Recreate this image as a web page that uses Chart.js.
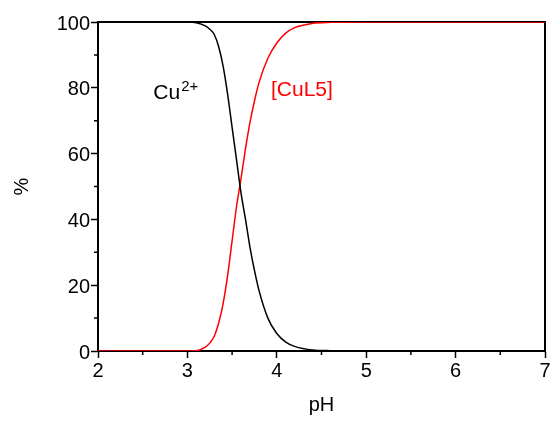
<!DOCTYPE html>
<html>
<head>
<meta charset="utf-8">
<script src="https://cdn.jsdelivr.net/npm/chart.js@4/dist/chart.umd.min.js"></script>
<style>
  html, body { margin: 0; padding: 0; background: #fff; }
  #wrap { width: 555px; height: 421px; }
</style>
</head>
<body>
<div id="wrap"><canvas id="SpeciesChart"></canvas></div>
<script>
// pH grid and distribution (%)
const pH = [2, 2.5, 3, 3.1, 3.2, 3.25, 3.3, 3.35, 3.4, 3.45, 3.5, 3.55, 3.6, 3.65, 3.7, 3.75, 3.8, 3.9, 4.0, 4.1, 4.2, 4.4, 4.6, 5, 5.5, 6, 6.5, 7];
const cuFree = [100, 100, 100, 99.8, 98.8, 97.8, 96.2, 92.5, 86.5, 78, 68, 58, 48, 40, 31.5, 24.5, 18.5, 10, 5.3, 2.7, 1.4, 0.3, 0.1, 0, 0, 0, 0, 0];
const cuL5 = [0, 0, 0, 0.1, 1.2, 2.4, 4.5, 8.5, 14.5, 23, 33.5, 44, 52.5, 61.5, 69.5, 76, 81.5, 89, 93.6, 96.6, 98.3, 99.6, 99.9, 100, 100, 100, 100, 100];
const xTicks = [2, 3, 4, 5, 6, 7];
const yTicks = [0, 20, 40, 60, 80, 100];

const FONT = "'Liberation Sans', Arial, sans-serif";

function points(ys) {
  return pH.map((x, i) => ({ x: x, y: ys[i] }));
}

// frame on top/right, minor ticks, species labels
const extras = {
  id: 'extras',
  beforeDatasetsDraw(chart) {
    const { ctx, chartArea: a, scales: { x, y } } = chart;
    ctx.save();
    ctx.strokeStyle = '#000';
    ctx.lineWidth = 2;
    ctx.beginPath();
    ctx.moveTo(a.left, a.top);
    ctx.lineTo(a.right, a.top);
    ctx.lineTo(a.right, a.bottom);
    ctx.stroke();

    ctx.lineWidth = 1.5;
    ctx.beginPath();
    for (let v = 2.5; v < 7; v += 1) {
      const px = x.getPixelForValue(v);
      ctx.moveTo(px, a.bottom);
      ctx.lineTo(px, a.bottom + 4);
    }
    for (let v = 10; v < 100; v += 20) {
      const py = y.getPixelForValue(v);
      ctx.moveTo(a.left, py);
      ctx.lineTo(a.left - 4, py);
    }
    ctx.stroke();
    ctx.restore();
  },
  afterDatasetsDraw(chart) {
    const { ctx, scales: { x, y } } = chart;
    ctx.save();
    ctx.textBaseline = 'alphabetic';
    ctx.textAlign = 'left';

    let px = x.getPixelForValue(2.619);
    let py = y.getPixelForValue(76.7);
    ctx.fillStyle = '#000';
    ctx.font = '21px ' + FONT;
    ctx.fillText('Cu', px, py);
    const w = ctx.measureText('Cu').width;
    ctx.font = '15px ' + FONT;
    ctx.fillText('2+', px + w + 1, py - 7.5);

    px = x.getPixelForValue(3.935);
    py = y.getPixelForValue(77.4);
    ctx.fillStyle = '#ff0000';
    ctx.font = '21px ' + FONT;
    ctx.fillText('[CuL5]', px, py);
    ctx.restore();
  }
};

const ctx = document.getElementById('SpeciesChart');
new Chart(ctx, {
  type: 'line',
  data: {
    datasets: [
      {
        label: 'Cu2+',
        data: points(cuFree),
        borderColor: '#000000',
        borderWidth: 1.5,
        pointRadius: 0,
        cubicInterpolationMode: 'monotone',
        fill: false
      },
      {
        label: '[CuL5]',
        data: points(cuL5),
        borderColor: '#ff0000',
        borderWidth: 1.5,
        pointRadius: 0,
        cubicInterpolationMode: 'monotone',
        fill: false
      }
    ]
  },
  options: {
    responsive: true,
    maintainAspectRatio: false,
    animation: false,
    layout: { padding: { left: 0, right: 10, top: 22, bottom: 0 } },
    plugins: {
      legend: { display: false },
      tooltip: { enabled: false }
    },
    scales: {
      x: {
        type: 'linear',
        min: 2,
        max: 7,
        afterBuildTicks: (s) => { s.ticks = xTicks.map(v => ({ value: v })); },
        afterFit: (s) => { s.height = 70; },
        grid: { drawOnChartArea: false, drawTicks: true, tickLength: 7, tickColor: '#000', tickWidth: 1.5 },
        border: { color: '#000', width: 2 },
        ticks: { color: '#000', padding: 1, maxRotation: 0, font: { family: FONT, size: 20 } },
        title: { display: true, text: 'pH', color: '#000', padding: { top: 0, bottom: 4 }, font: { family: FONT, size: 20 } }
      },
      y: {
        min: 0,
        max: 100,
        afterBuildTicks: (s) => { s.ticks = yTicks.map(v => ({ value: v })); },
        afterFit: (s) => { s.width = 98; },
        grid: { drawOnChartArea: false, drawTicks: true, tickLength: 7, tickColor: '#000', tickWidth: 1.5 },
        border: { color: '#000', width: 2 },
        ticks: { color: '#000', padding: 1, labelOffset: 2, font: { family: FONT, size: 20 } },
        title: { display: true, text: '%', color: '#000', padding: { top: 10, bottom: 0 }, font: { family: FONT, size: 20 } }
      }
    }
  },
  plugins: [extras]
});
</script>
</body>
</html>
